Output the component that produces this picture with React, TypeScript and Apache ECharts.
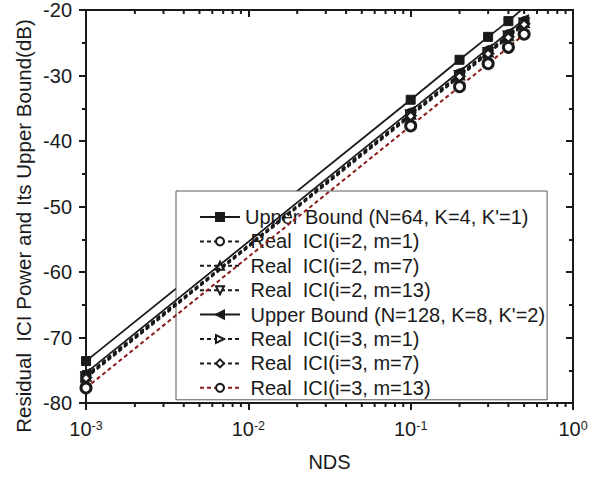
import React, { useEffect, useRef } from "react";
import * as echarts from "echarts";

// NDS sample points (x axis, log scale)
const ndsValues = [0.001, 0.1, 0.2, 0.3, 0.4, 0.5];

// Residual ICI power / upper bound (dB)
const ub64 = [-73.6, -33.7, -27.6, -24.1, -21.7, -19.6];
const i2m1 = [-75.8, -35.8, -29.8, -26.3, -23.8, -21.8];
const i2m7 = [-75.9, -35.9, -29.9, -26.4, -23.9, -21.9];
const i2m13 = [-76.0, -36.0, -30.0, -26.5, -24.0, -22.0];
const ub128 = [-75.4, -35.4, -29.4, -25.9, -23.4, -21.4];
const i3m1 = [-76.1, -36.1, -30.1, -26.6, -24.1, -22.1];
const i3m7 = [-76.2, -36.2, -30.2, -26.7, -24.2, -22.2];
const i3m13 = [-77.7, -37.7, -31.7, -28.2, -25.7, -23.7];

const seriesNames = [
  "Upper Bound (N=64, K=4, K'=1)",
  " Real  ICI(i=2, m=1)",
  " Real  ICI(i=2, m=7)",
  " Real  ICI(i=2, m=13)",
  " Upper Bound (N=128, K=8, K'=2)",
  " Real  ICI(i=3, m=1)",
  " Real  ICI(i=3, m=7)",
  " Real  ICI(i=3, m=13)",
];

// x axis: decades (exponents) and minor-tick multipliers
const decadeExponents = [-3, -2, -1, 0];
const minorMultipliers = [2, 3, 4, 5, 6, 7, 8, 9];

const yTicks = { min: -80, max: -20, interval: 10 };

const yTitle = "Residual  ICI Power and Its Upper Bound(dB)";
const xTitle = "NDS";

const FONT = "'Liberation Sans', Arial, Helvetica, sans-serif";

export default function App() {
  const ref = useRef<HTMLDivElement>(null);

  useEffect(() => {
    if (!ref.current) return;
    const chart = echarts.init(ref.current, null, { renderer: "svg" });

    const toXY = (ys: number[]) => ndsValues.map((x, i) => [Math.log10(x), ys[i]]);

    const minorValues: number[] = [];
    decadeExponents.slice(0, -1).forEach((e) => {
      minorMultipliers.forEach((m) => minorValues.push(Math.log10(m * Math.pow(10, e))));
    });

    const black = "#1a1a1a";
    const dash = [4, 3];

    const mk = (
      idx: number,
      data: number[],
      symbol: string,
      opts: { solid?: boolean; filled?: boolean; rotate?: number; lineColor?: string; size?: number; border?: number }
    ) => ({
      name: seriesNames[idx],
      type: "line",
      data: toXY(data),
      symbol,
      symbolSize: opts.size ?? 9,
      symbolRotate: opts.rotate ?? 0,
      z: 2 + idx,
      lineStyle: {
        color: opts.lineColor ?? black,
        width: opts.solid ? 1.8 : 2,
        type: opts.solid ? "solid" : dash,
      },
      itemStyle: opts.filled
        ? { color: black, borderColor: black, borderWidth: 1 }
        : { color: "#ffffff", borderColor: black, borderWidth: opts.border ?? 2.2 },
      clip: true,
    });

    const baseXAxis = {
      type: "value",
      min: -3,
      max: 0,
      interval: 1,
      splitLine: { show: false },
    };

    chart.setOption({
      animation: false,
      backgroundColor: "#ffffff",
      textStyle: { fontFamily: FONT },
      grid: { left: 86, right: 42, top: 10, bottom: 67, containLabel: false },
      legend: {
        orient: "vertical",
        left: 176,
        top: 191,
        padding: [16, 2, 2, 23],
        backgroundColor: "#ffffff",
        borderColor: "#5a5a5a",
        borderWidth: 1,
        itemWidth: 40,
        itemHeight: 10,
        itemGap: 4.4,
        textStyle: { fontSize: 20, color: black, fontFamily: FONT },
        data: seriesNames,
      },
      graphic: [
        {
          type: "text",
          x: 23,
          y: 226,
          rotation: Math.PI / 2,
          style: {
            text: yTitle,
            fill: black,
            font: `20.5px ${FONT}`,
            align: "center",
            verticalAlign: "middle",
          },
        },
      ],
      xAxis: [
        {
          ...baseXAxis,
          position: "bottom",
          name: xTitle,
          nameLocation: "middle",
          nameGap: 49,
          nameTextStyle: { fontSize: 20, color: black, fontFamily: FONT },
          axisLine: { show: true, onZero: false, lineStyle: { color: black, width: 2 } },
          axisTick: { show: true, inside: false, length: 7, lineStyle: { color: black, width: 2 } },
          axisLabel: {
            margin: 16,
            formatter: (v: number) => `{b|10}{s|${Math.round(v)}}`,
            rich: {
              b: { fontSize: 20, fontFamily: FONT, color: black, verticalAlign: "bottom", lineHeight: 20 },
              s: { fontSize: 12.5, fontFamily: FONT, color: black, verticalAlign: "top", lineHeight: 12, padding: [0, 0, 14, 0] },
            },
          },
        },
        {
          ...baseXAxis,
          position: "top",
          axisLine: { show: true, onZero: false, lineStyle: { color: black, width: 2 } },
          axisTick: { show: true, inside: true, length: 7, lineStyle: { color: black, width: 2 } },
          axisLabel: { show: false },
        },
      ],
      yAxis: [
        {
          type: "value",
          position: "left",
          min: yTicks.min,
          max: yTicks.max,
          interval: yTicks.interval,
          splitLine: { show: false },
          axisLine: { show: true, onZero: false, lineStyle: { color: black, width: 2 } },
          axisTick: { show: true, inside: false, length: 7, lineStyle: { color: black, width: 2 } },
          minorTick: { show: true, splitNumber: 2, length: 4, lineStyle: { color: black, width: 2 } },
          axisLabel: { margin: 14, fontSize: 20, color: black, fontFamily: FONT },
        },
        {
          type: "value",
          position: "right",
          min: yTicks.min,
          max: yTicks.max,
          interval: yTicks.interval,
          splitLine: { show: false },
          axisLine: { show: true, onZero: false, lineStyle: { color: black, width: 2 } },
          axisTick: { show: true, inside: true, length: 7, lineStyle: { color: black, width: 2 } },
          minorTick: { show: true, splitNumber: 2, length: 4, lineStyle: { color: black, width: 2 } },
          axisLabel: { show: false },
        },
      ],
      series: [
        mk(0, ub64, "rect", { solid: true, filled: true }),
        mk(1, i2m1, "circle", {}),
        mk(2, i2m7, "triangle", {}),
        mk(3, i2m13, "triangle", { rotate: 180 }),
        mk(4, ub128, "triangle", { solid: true, filled: true, rotate: 90 }),
        mk(5, i3m1, "triangle", { rotate: -90 }),
        mk(6, i3m7, "diamond", {}),
        mk(7, i3m13, "circle", { lineColor: "#8b1a1a", border: 3, size: 10 }),
        {
          type: "custom",
          name: "x minor ticks",
          xAxisIndex: 0,
          yAxisIndex: 0,
          silent: true,
          clip: false,
          z: 20,
          data: minorValues.map((v) => [v, yTicks.min]),
          encode: { x: 0, y: 1 },
          renderItem: (_params: any, api: any) => {
            const b = api.coord([api.value(0), yTicks.min]);
            const t = api.coord([api.value(0), yTicks.max]);
            const st = { stroke: black, lineWidth: 2 };
            return {
              type: "group",
              children: [
                { type: "line", shape: { x1: b[0], y1: b[1], x2: b[0], y2: b[1] + 4 }, style: st },
                { type: "line", shape: { x1: t[0], y1: t[1], x2: t[0], y2: t[1] + 4 }, style: st },
              ],
            };
          },
        },
      ],
    });

    return () => chart.dispose();
  }, []);

  return (
    <div
      ref={ref}
      style={{ position: "fixed", left: 0, top: 0, width: 615, height: 477, background: "#fff" }}
    />
  );
}
